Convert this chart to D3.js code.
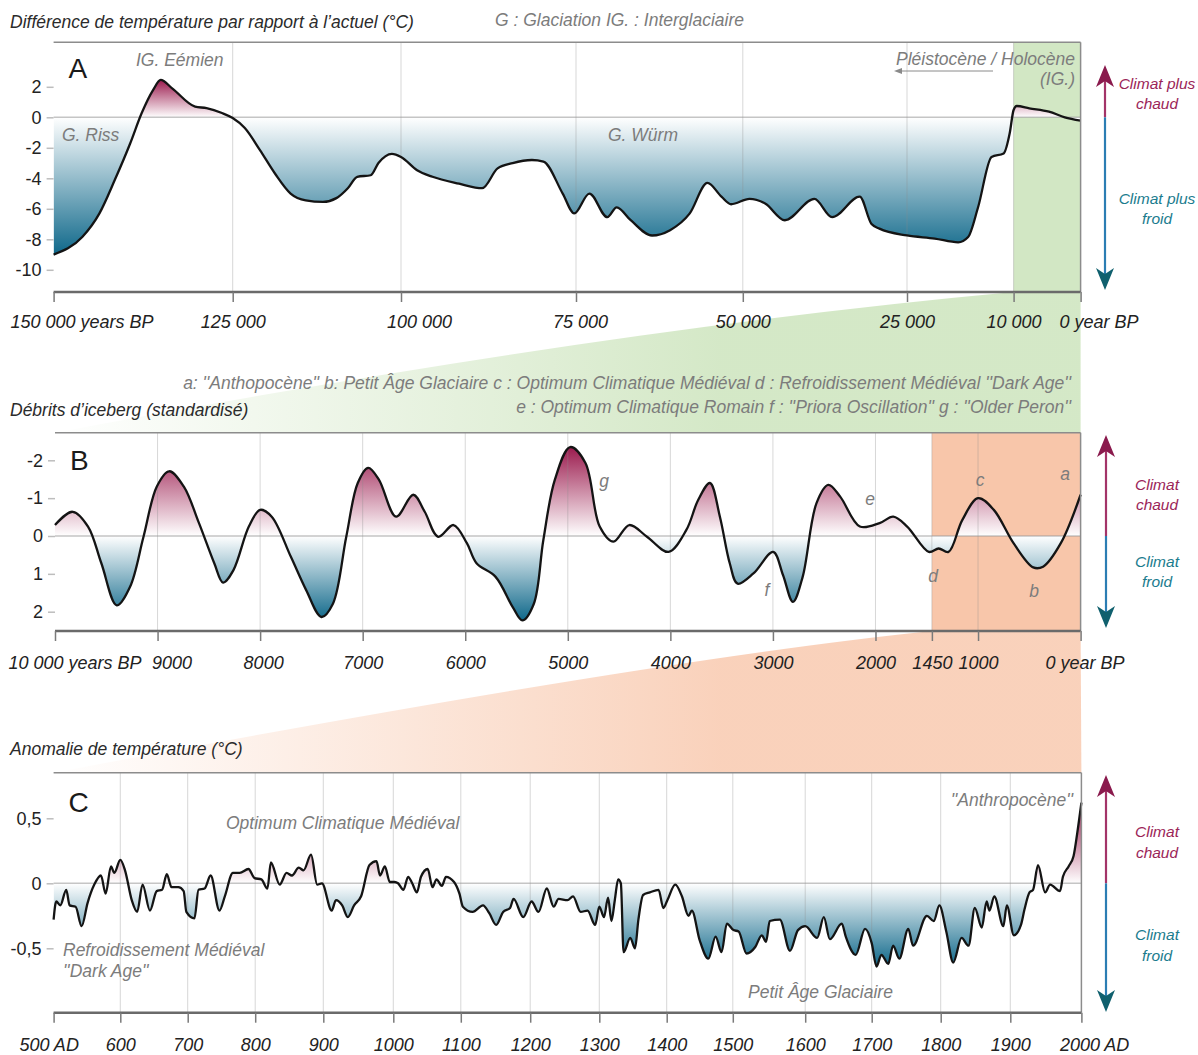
<!DOCTYPE html>
<html>
<head>
<meta charset="utf-8">
<title>Températures passées</title>
<script src="https://cdn.jsdelivr.net/npm/d3@7"></script>
<style>
    body { margin: 0; background: white; }
    svg text { font-family: "Liberation Sans", Arial, sans-serif; }
</style>
</head>
<body>
<svg id="chart" width="1198" height="1055"></svg>
<script>
// ---- data ----
// A : temperature difference (°C) vs years BP
const yearsA = [150000, 146000, 143600, 141450, 139300, 137700, 136100, 135050, 133450, 130250,
    128650, 126500, 125000, 123200, 120950, 118700, 116400, 114150, 111600, 109600,
    107900, 106500, 104500, 103350, 101350, 100000, 97700, 95500, 91700, 88400,
    86200, 84050, 81300, 79650, 76900, 75250, 73000, 70300, 68900, 66800,
    63600, 60900, 57950, 55300, 53200, 51750, 48980, 46600, 43600, 39100,
    36400, 32200, 30400, 29200, 25000, 21100, 17800, 16400, 15000, 13100,
    11400, 10550, 10000, 9540, 7650, 4720, 2360, 0];
const tempA = [-9.0, -7.85, -6.3, -4.1, -1.7, 0.28, 1.8, 2.45, 1.9, 0.7,
    0.6, 0.28, -0.05, -0.7, -2.15, -3.7, -5.0, -5.45, -5.55, -5.3,
    -4.65, -3.9, -3.8, -3.0, -2.4, -2.6, -3.47, -3.9, -4.35, -4.65,
    -3.35, -3.0, -2.8, -2.9, -5.0, -6.3, -5.0, -6.55, -5.9, -6.75,
    -7.75, -7.4, -6.3, -4.3, -5.2, -5.7, -5.35, -5.65, -6.75, -5.35,
    -6.55, -5.2, -7.0, -7.3, -7.75, -7.95, -8.2, -7.85, -5.9, -2.6,
    -2.37, -1.05, 0.48, 0.74, 0.59, 0.37, 0.0, -0.22];

// B : iceberg debris (standardised, negative = warm) vs years BP
const yearsB = [10000, 9828, 9678, 9548, 9398, 9268, 9137, 9007, 8887, 8745,
    8596, 8447, 8361, 8260, 8110, 8000, 7887, 7700, 7551, 7402,
    7290, 7160, 7048, 6946, 6842, 6674, 6507, 6395, 6264, 6115,
    5984, 5890, 5704, 5537, 5443, 5331, 5238, 5126, 4977, 4828,
    4689, 4555, 4400, 4228, 4017, 3844, 3729, 3614, 3517, 3421,
    3344, 3190, 2998, 2902, 2805, 2710, 2575, 2460, 2344, 2152,
    1960, 1826, 1691, 1480, 1384, 1288, 1154, 1000, 846, 654,
    462, 366, 193, 0];
const debrisB = [-0.29, -0.64, -0.25, 0.72, 1.83, 1.34, 0.02, -1.31, -1.71, -1.31,
    -0.34, 0.72, 1.23, 0.9, -0.25, -0.69, -0.51, 0.55, 1.43, 2.14,
    1.79, 0.02, -1.4, -1.8, -1.49, -0.51, -1.09, -0.64, 0.02, -0.29,
    0.19, 0.72, 1.08, 1.88, 2.23, 1.79, 0.1, -1.49, -2.35, -1.93,
    -0.25, 0.15, -0.29, 0.02, 0.42, -0.16, -0.95, -1.4, -0.51, 0.72,
    1.26, 0.99, 0.42, 1.03, 1.74, 1.08, -0.87, -1.35, -1.04, -0.25,
    -0.34, -0.51, -0.25, 0.42, 0.33, 0.42, -0.42, -1.0, -0.69, 0.19,
    0.83, 0.81, 0.19, -1.09];

// C : temperature anomaly (°C) vs years AD
const yearsC = [500, 504, 510, 519, 524, 533, 542, 551, 561, 571,
    578, 586, 591, 600, 607, 617, 625, 633, 644, 654,
    662, 669, 676, 686, 694, 698, 710, 716, 725, 734,
    747, 755, 767, 777, 790, 799, 809, 818, 823, 836,
    846, 854, 864, 871, 882, 891, 898, 912, 918, 927,
    935, 944, 954, 966, 976, 981, 988, 995, 1002, 1007,
    1015, 1022, 1028, 1035, 1041, 1051, 1058, 1064, 1072, 1078,
    1090, 1098, 1103, 1117, 1132, 1141, 1151, 1161, 1171, 1176,
    1190, 1202, 1212, 1224, 1234, 1241, 1254, 1262, 1273, 1283,
    1294, 1300, 1307, 1313, 1318, 1323, 1328, 1332, 1336, 1346,
    1353, 1358, 1365, 1375, 1388, 1395, 1401, 1413, 1423, 1433,
    1438, 1450, 1463, 1474, 1483, 1491, 1501, 1508, 1519, 1531,
    1540, 1546, 1551, 1565, 1579, 1590, 1600, 1618, 1628, 1637,
    1655, 1661, 1676, 1690, 1700, 1707, 1714, 1724, 1731, 1740,
    1753, 1760, 1780, 1790, 1798, 1808, 1818, 1830, 1840, 1849,
    1859, 1866, 1870, 1877, 1890, 1895, 1905, 1915, 1920, 1927,
    1932, 1939, 1949, 1956, 1970, 1974, 1982, 1989, 1994, 2000];
const anomalyC = [-0.28, -0.14, -0.17, -0.05, -0.17, -0.18, -0.33, -0.15, -0.01, 0.06,
    -0.08, 0.13, 0.08, 0.18, 0.10, -0.13, -0.22, -0.01, -0.21, -0.06,
    -0.05, 0.07, -0.03, -0.03, -0.06, -0.22, -0.27, -0.05, -0.04, 0.06,
    -0.21, -0.10, 0.08, 0.08, 0.11, 0.04, 0.03, -0.04, 0.16, -0.01,
    0.08, 0.06, 0.12, 0.10, 0.22, -0.01, 0.0, -0.21, -0.13, -0.17,
    -0.26, -0.17, -0.10, 0.14, 0.17, 0.06, 0.13, 0.01, 0.01, 0,
    -0.05, 0.05, 0, -0.07, 0.05, 0.11, -0.03, 0.03, -0.02, 0.05,
    0.01, -0.08, -0.18, -0.22, -0.17, -0.23, -0.32, -0.22, -0.19, -0.12,
    -0.26, -0.14, -0.22, -0.04, -0.18, -0.12, -0.13, -0.10, -0.22, -0.21,
    -0.32, -0.18, -0.26, -0.11, -0.29, -0.13, 0.03, 0, -0.53, -0.42,
    -0.50, -0.28, -0.09, -0.07, -0.05, -0.19, -0.13, -0.01, -0.10, -0.25,
    -0.21, -0.44, -0.58, -0.41, -0.53, -0.31, -0.36, -0.37, -0.54, -0.49,
    -0.40, -0.45, -0.29, -0.28, -0.52, -0.36, -0.33, -0.42, -0.26, -0.43,
    -0.31, -0.41, -0.55, -0.35, -0.46, -0.64, -0.55, -0.62, -0.48, -0.58,
    -0.35, -0.48, -0.25, -0.29, -0.17, -0.37, -0.61, -0.42, -0.48, -0.19,
    -0.34, -0.14, -0.21, -0.10, -0.33, -0.17, -0.40, -0.32, -0.20, -0.07,
    -0.05, 0.14, -0.07, -0.01, -0.06, 0.05, 0.13, 0.21, 0.38, 0.62];

// tick values
const ticksA = [150000, 125000, 100000, 75000, 50000, 25000, 10000, 0];
const ticksB = [10000, 9000, 8000, 7000, 6000, 5000, 4000, 3000, 2000, 1450, 1000, 0];
const ticksC = [500, 600, 700, 800, 900, 1000, 1100, 1200, 1300, 1400, 1500, 1600, 1700, 1800, 1900, 2000];
const yTicksA = [2, 0, -2, -4, -6, -8, -10];
const yTicksB = [-2, -1, 0, 1, 2];
const yTicksC = [0.5, 0, -0.5];

// ---- styles ----
const warmColor = "#9b1b4e";
const coldColor = "#0f688a";
const green = "#d2e7c4";
const orange = "#f8c6aa";
const grey = "#7c7c7c";
const textSize = 17.5;

const svg = d3.select("#chart");
const fr = d3.formatLocale({ decimal: ",", thousands: " ", grouping: [3], currency: ["", ""], minus: "-" });
const fmtSpace = fr.format(",");
const fmtPlain = fr.format("");

// scales (hand drawn figure: the grid of A and C is not exactly regular)
const xA = d3.scaleLinear().domain(ticksA).range([53.6, 232.7, 401, 576, 742.8, 907, 1013.6, 1080.6]);
const yA = d3.scaleLinear().domain([0, -10]).range([117.3, 269.8]);
const xB = d3.scaleLinear().domain([10000, 0]).range([55, 1080.6]);
const yB = d3.scaleLinear().domain([0, 2]).range([536, 611.7]);
const xC = d3.scaleLinear().domain(ticksC)
    .range([53.6, 120.3, 187.7, 255.2, 323.3, 393.3, 460.8, 530.2, 599.3, 666.7, 732.8, 805.2, 871.7, 940.7, 1010.3, 1081.4]);
const yC = d3.scaleLinear().domain([0, -0.5]).range([883.3, 948.3]);

// ---- funnels between panels ----
function funnel(id, color, maxOpacity, x0, x1, yTop, xl, xr, yBot, ctrl) {
    const lg = svg.append("defs").append("linearGradient").attr("id", id)
        .attr("gradientUnits", "userSpaceOnUse")
        .attr("x1", 50).attr("x2", 720).attr("y1", 0).attr("y2", 0);
    lg.append("stop").attr("offset", 0).attr("stop-color", color).attr("stop-opacity", 0);
    lg.append("stop").attr("offset", 1).attr("stop-color", color).attr("stop-opacity", maxOpacity);
    const p = d3.path();
    p.moveTo(x0, yTop);
    p.lineTo(x1, yTop);
    p.lineTo(xr, yBot);
    p.lineTo(xl, yBot);
    p.quadraticCurveTo(ctrl[0], ctrl[1], x0, yTop);
    p.closePath();
    svg.append("path").attr("d", p.toString()).attr("fill", `url(#${id})`);
}
funnel("fadeGreen", green, 0.95, xA(10000), xA(0), 292, xB(10000), xB(0), 432.7, [600, 330]);
funnel("fadeOrange", orange, 0.8, xB(1450), xB(0), 631, xC(500), xC(2000), 772.7, [650, 660]);

// ---- one panel ----
function drawPanel(p) {
    const g = svg.append("g");
    const r = p.x.range();
    const left = r[0], right = r[r.length - 1];
    const zero = p.y(0);
    const pts = p.years.map((d, i) => [d, p.values[i]]);
    const ys = p.values.map(p.y);
    const defs = g.append("defs");

    function grad(id, to, color) {
        const lg = defs.append("linearGradient").attr("id", id)
            .attr("gradientUnits", "userSpaceOnUse")
            .attr("x1", 0).attr("x2", 0).attr("y1", zero).attr("y2", to);
        lg.append("stop").attr("offset", 0).attr("stop-color", "#fff");
        lg.append("stop").attr("offset", 1).attr("stop-color", color);
    }
    grad(p.id + "Warm", d3.min(ys), warmColor);
    grad(p.id + "Cold", d3.max(ys), coldColor);
    defs.append("clipPath").attr("id", p.id + "Up").append("rect")
        .attr("x", left).attr("y", p.top).attr("width", right - left).attr("height", zero - p.top);
    defs.append("clipPath").attr("id", p.id + "Down").append("rect")
        .attr("x", left).attr("y", zero).attr("width", right - left).attr("height", p.bottom - zero);

    // highlighted period
    if (p.band) {
        g.append("rect")
            .attr("x", p.x(p.band[0])).attr("y", p.top)
            .attr("width", p.x(p.band[1]) - p.x(p.band[0])).attr("height", p.bottom - p.top)
            .attr("fill", p.band[2]);
    }

    // filled areas
    const area = d3.area().x(d => p.x(d[0])).y0(zero).y1(d => p.y(d[1])).curve(p.curve);
    g.append("path").datum(pts).attr("d", area)
        .attr("fill", `url(#${p.id}Warm)`).attr("clip-path", `url(#${p.id}Up)`);
    g.append("path").datum(pts).attr("d", area)
        .attr("fill", `url(#${p.id}Cold)`).attr("clip-path", `url(#${p.id}Down)`);

    // grid
    g.selectAll(".grid").data(p.xTicks.slice(1, -1)).join("line")
        .attr("x1", d => p.x(d)).attr("x2", d => p.x(d))
        .attr("y1", p.top).attr("y2", p.bottom)
        .attr("stroke", "rgba(140,140,140,0.35)").attr("stroke-width", 1);
    g.append("line").attr("x1", left).attr("x2", right).attr("y1", zero).attr("y2", zero)
        .attr("stroke", "rgba(150,150,150,0.55)").attr("stroke-width", 1.5);

    // curve
    const line = d3.line().x(d => p.x(d[0])).y(d => p.y(d[1])).curve(p.curve);
    g.append("path").datum(pts).attr("d", line)
        .attr("fill", "none").attr("stroke", "#141414").attr("stroke-width", p.lineWidth)
        .attr("stroke-linejoin", "round");

    // frame
    g.append("line").attr("x1", left).attr("x2", right).attr("y1", p.top).attr("y2", p.top)
        .attr("stroke", "#8c8c8c").attr("stroke-width", 1.5);
    g.append("line").attr("x1", right).attr("x2", right).attr("y1", p.top).attr("y2", p.bottom)
        .attr("stroke", "#8c8c8c").attr("stroke-width", 1.5);
    g.append("line").attr("x1", left).attr("x2", right).attr("y1", p.bottom).attr("y2", p.bottom)
        .attr("stroke", "#6a6a6a").attr("stroke-width", 2.5);

    // bottom axis
    const ax = g.append("g").attr("transform", `translate(0,${p.bottom})`)
        .call(d3.axisBottom(p.x).tickValues(p.xTicks).tickFormat(p.xFormat).tickSize(10).tickPadding(p.xPad));
    ax.attr("font-family", null).attr("font-size", 18);
    ax.select(".domain").remove();
    ax.selectAll(".tick line").attr("stroke", "#7a7a7a").attr("stroke-width", 1.5);
    ax.selectAll(".tick text").attr("font-style", "italic").attr("fill", "#222")
        .attr("dx", d => p.labelShift[d] || 0);
    ax.selectAll(".tick text").filter(d => d === p.xTicks[0])
        .attr("text-anchor", "start").attr("dx", p.firstDx);
    ax.selectAll(".tick text").filter(d => d === p.xTicks[p.xTicks.length - 1])
        .attr("text-anchor", "start").attr("dx", p.lastDx);

    // left axis
    const ay = g.append("g").attr("transform", `translate(${left},0)`)
        .call(d3.axisLeft(p.y).tickValues(p.yTicks).tickFormat(fmtPlain).tickSize(7).tickPadding(5));
    ay.attr("font-family", null).attr("font-size", 18);
    ay.select(".domain").remove();
    ay.selectAll(".tick line").attr("stroke", "#bdbdbd").attr("stroke-width", 1.5);
    ay.selectAll(".tick text").attr("fill", "#222");

    // panel letter
    g.append("text").attr("x", left + 15).attr("y", p.letterY)
        .attr("font-size", 28).attr("fill", "#1a1a1a").text(p.letter);
}

drawPanel({
    id: "pA", letter: "A", letterY: 78,
    x: xA, y: yA, years: yearsA, values: tempA, top: 42.3, bottom: 292,
    xTicks: ticksA, yTicks: yTicksA,
    xFormat: d => d === 150000 ? "150 000 years BP" : d === 0 ? "0 year BP" : fmtSpace(d),
    xPad: 13, firstDx: -43.6, lastDx: -21.6, labelShift: { 100000: 18, 75000: 4 },
    band: [10000, 0, green], curve: d3.curveMonotoneX, lineWidth: 2.3
});
drawPanel({
    id: "pB", letter: "B", letterY: 470,
    x: xB, y: yB, years: yearsB, values: debrisB, top: 432.7, bottom: 631,
    xTicks: ticksB, yTicks: yTicksB,
    xFormat: d => d === 10000 ? "10 000 years BP" : d === 0 ? "0 year BP" : String(d),
    xPad: 15, firstDx: -47, lastDx: -35.6, labelShift: { 9000: 14, 8000: 3 },
    band: [1450, 0, orange], curve: d3.curveCatmullRom.alpha(0.5), lineWidth: 2.3
});
drawPanel({
    id: "pC", letter: "C", letterY: 812,
    x: xC, y: yC, years: yearsC, values: anomalyC, top: 772.7, bottom: 1012.7,
    xTicks: ticksC, yTicks: yTicksC,
    xFormat: d => d === 500 ? "500 AD" : d === 2000 ? "2000 AD" : String(d),
    xPad: 16, firstDx: -34.6, lastDx: -22, labelShift: {},
    band: null, curve: d3.curveMonotoneX, lineWidth: 2.3
});

// ---- texts ----
function label(x, y, txt, opts = {}) {
    return svg.append("text").attr("x", x).attr("y", y)
        .attr("font-size", opts.size || textSize)
        .attr("font-style", "italic")
        .attr("text-anchor", opts.anchor || "start")
        .attr("fill", opts.color || grey)
        .text(txt);
}

// titles
label(10, 28, "Différence de température par rapport à l’actuel (°C)", { color: "#2b2b2b" });
label(495, 26, "G : Glaciation IG. : Interglaciaire");
label(10, 416, "Débrits d’iceberg (standardisé)", { color: "#2b2b2b" });
label(10, 755, "Anomalie de température (°C)", { color: "#2b2b2b" });

// panel A
label(136, 66, "IG. Eémien");
label(62, 141, "G. Riss");
label(608, 141, "G. Würm");
label(1075, 65, "Pléistocène / Holocène", { anchor: "end" });
label(1075, 85, "(IG.)", { anchor: "end" });
svg.append("line").attr("x1", 993).attr("x2", 900).attr("y1", 71).attr("y2", 71)
    .attr("stroke", "#8a8a8a").attr("stroke-width", 1);
svg.append("path").attr("d", "M894,71 L902,68 L902,74 Z").attr("fill", "#8a8a8a");

// panel B
label(1071, 389, "a: ''Anthopocène'' b: Petit Âge Glaciaire c : Optimum Climatique Médiéval d : Refroidissement Médiéval ''Dark Age''", { anchor: "end" });
label(1071, 413, "e : Optimum Climatique Romain f : ''Priora Oscillation'' g : ''Older Peron''", { anchor: "end" });
const letterNotes = [["g", 604, 487], ["e", 870, 505], ["c", 980, 486], ["a", 1065, 480],
    ["d", 933, 582], ["f", 767, 596], ["b", 1034, 597]];
letterNotes.forEach(n => label(n[1], n[2], n[0], { anchor: "middle" }));

// panel C
label(226, 829, "Optimum Climatique Médiéval");
label(63, 956, "Refroidissement Médiéval");
label(63, 977, "''Dark Age''");
label(1073, 806, "''Anthropocène''", { anchor: "end" });
label(748, 998, "Petit Âge Glaciaire");

// ---- warm / cold arrows ----
function climateArrow(x, yTop, yMid, yBot, warm, cold) {
    const g = svg.append("g");
    g.append("line").attr("x1", x).attr("x2", x).attr("y1", yTop + 12).attr("y2", yMid)
        .attr("stroke", "#a33468").attr("stroke-width", 2.2);
    g.append("line").attr("x1", x).attr("x2", x).attr("y1", yMid).attr("y2", yBot - 12)
        .attr("stroke", "#2b7db3").attr("stroke-width", 2.2);
    g.append("path").attr("d", `M${x},${yTop} L${x - 9},${yTop + 22} L${x},${yTop + 16} L${x + 9},${yTop + 22} Z`)
        .attr("fill", "#8a1a4d");
    g.append("path").attr("d", `M${x},${yBot} L${x - 9},${yBot - 22} L${x},${yBot - 16} L${x + 9},${yBot - 22} Z`)
        .attr("fill", "#10606e");
    warm.forEach(t => label(1157, t[1], t[0], { anchor: "middle", size: 15.5, color: "#9b2558" }));
    cold.forEach(t => label(1157, t[1], t[0], { anchor: "middle", size: 15.5, color: "#1b7c8e" }));
}
climateArrow(1105, 65, yA(0), 290, [["Climat plus", 89], ["chaud", 109]], [["Climat plus", 204], ["froid", 224]]);
climateArrow(1106, 435, yB(0), 628, [["Climat", 490], ["chaud", 510]], [["Climat", 567], ["froid", 587]]);
climateArrow(1106, 775, yC(0), 1012, [["Climat", 837], ["chaud", 858]], [["Climat", 940], ["froid", 961]]);
</script>
</body>
</html>
